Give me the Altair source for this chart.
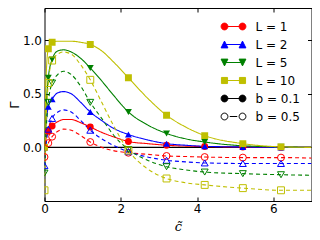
import altair as alt
import pandas as pd

# ---- data ----
c_values = [0, 0.05, 0.1, 0.2, 0.35, 0.5, 0.7, 0.95, 1.2, 1.5, 1.8, 2.2, 2.7, 3.2, 3.7, 4.2, 5.2, 6.2, 7.0]
marker_c = [0, 0.1, 0.2, 1.2, 2.2, 3.2, 4.2, 5.2, 6.2]

L_labels = ["L = 1", "L = 2", "L = 5", "L = 10"]
b_labels = ["b = 0.1", "b = 0.5"]

gamma_L1_b01 = [0.0, 0.10, 0.15, 0.20, 0.24, 0.26, 0.26, 0.23, 0.19, 0.14, 0.10, 0.055, 0.035, 0.02, 0.012, 0.008, 0.003, 0.0, 0.0]
gamma_L2_b01 = [0.0, 0.25, 0.38, 0.45, 0.51, 0.52, 0.50, 0.42, 0.33, 0.25, 0.18, 0.12, 0.07, 0.035, 0.02, 0.01, 0.004, 0.0, 0.0]
gamma_L5_b01 = [0.0, 0.42, 0.65, 0.82, 0.90, 0.91, 0.89, 0.83, 0.74, 0.62, 0.49, 0.33, 0.21, 0.13, 0.08, 0.05, 0.015, 0.005, 0.0]
gamma_L10_b01 = [0.0, 0.72, 0.92, 0.98, 0.99, 0.99, 0.99, 0.98, 0.96, 0.90, 0.80, 0.65, 0.46, 0.30, 0.19, 0.11, 0.035, 0.005, 0.0]

gamma_L1_b05 = [-0.09, 0.0, 0.04, 0.10, 0.15, 0.17, 0.16, 0.11, 0.05, 0.0, -0.03, -0.05, -0.065, -0.08, -0.085, -0.09, -0.095, -0.095, -0.1]
gamma_L2_b05 = [-0.17, 0.05, 0.17, 0.27, 0.33, 0.35, 0.33, 0.25, 0.16, 0.08, 0.02, -0.04, -0.09, -0.12, -0.135, -0.145, -0.15, -0.15, -0.15]
gamma_L5_b05 = [-0.24, 0.20, 0.42, 0.60, 0.68, 0.71, 0.68, 0.57, 0.42, 0.27, 0.12, -0.02, -0.12, -0.18, -0.21, -0.23, -0.245, -0.255, -0.26]
gamma_L10_b05 = [-0.40, 0.30, 0.60, 0.81, 0.87, 0.89, 0.87, 0.77, 0.63, 0.42, 0.21, -0.03, -0.20, -0.29, -0.33, -0.35, -0.38, -0.40, -0.40]

x_ticks = [0, 2, 4, 6]
y_ticks = [0.0, 0.5, 1.0]
zero_level = [0.0]

series_colors = ["#ff0000", "#0000ff", "#008000", "#bfbf00"]
series_shapes = ["circle", "triangle-up", "triangle-down", "square"]

legend_labels = L_labels + b_labels
legend_stroke = series_colors + ["#000000", "#000000"]
legend_fill = series_colors + ["#000000", "#ffffff"]

# ---- build tables ----
series = {
    ("L = 1", "b = 0.1"): gamma_L1_b01, ("L = 2", "b = 0.1"): gamma_L2_b01,
    ("L = 5", "b = 0.1"): gamma_L5_b01, ("L = 10", "b = 0.1"): gamma_L10_b01,
    ("L = 1", "b = 0.5"): gamma_L1_b05, ("L = 2", "b = 0.5"): gamma_L2_b05,
    ("L = 5", "b = 0.5"): gamma_L5_b05, ("L = 10", "b = 0.5"): gamma_L10_b05,
}
rows = []
for (L, b), ys in series.items():
    for c, g in zip(c_values, ys):
        rows.append({"c": c, "gamma": g, "L": L, "b": b, "marker": c in marker_c})
df = pd.DataFrame(rows)

# legend symbols: line with two markers (custom paths)
X, R = 1.8, 0.68
def circ(cx, r=R):
    return f"M{cx - r},0A{r},{r} 0 1,0 {cx + r},0A{r},{r} 0 1,0 {cx - r},0Z"
def tri_up(cx, r=R):
    return f"M{cx},{-r}L{cx + r},{r}L{cx - r},{r}Z"
def tri_down(cx, r=R):
    return f"M{cx},{r}L{cx + r},{-r}L{cx - r},{-r}Z"
def sq(cx, r=R * 0.9):
    return f"M{cx - r},{-r}L{cx + r},{-r}L{cx + r},{r}L{cx - r},{r}Z"
line = f"M{-X},0L{X},0"
dash = "M-0.75,0L0.75,0"
legend_paths = [
    line + circ(-X) + circ(X),
    line + tri_up(-X) + tri_up(X),
    line + tri_down(-X) + tri_down(X),
    line + sq(-X) + sq(X),
    line + circ(-X) + circ(X),
    dash + circ(-X) + circ(X),
]

# ---- scales / axes ----
xs = alt.Scale(domain=[0, 7], nice=False, zero=False)
ys = alt.Scale(domain=[-0.5, 1.3], nice=False, zero=False)
cs = alt.Scale(domain=L_labels, range=series_colors)
ss = alt.Scale(domain=L_labels, range=series_shapes)

common_axis = dict(grid=False, domain=False, tickSize=4, offset=-4, tickColor="black",
                   tickWidth=1, labelFont="DejaVu Sans", labelFontSize=12,
                   labelColor="black", labelFlush=False, labelOverlap=False)
ax_bottom = alt.Axis(orient="bottom", values=x_ticks, labelPadding=2, title="c\u0303",
                     titleFont="DejaVu Serif", titleFontStyle="italic", titleFontWeight="normal",
                     titleFontSize=13, titleColor="black", titlePadding=6, **common_axis)
ax_top = alt.Axis(orient="top", values=x_ticks, labels=False, title=None, **common_axis)
ax_left = alt.Axis(orient="left", values=y_ticks, format=".1f", labelPadding=3, title="\u0393",
                   titleFont="DejaVu Sans", titleFontWeight="normal", titleFontSize=13,
                   titleColor="black", titlePadding=1, **common_axis)
ax_right = alt.Axis(orient="right", values=y_ticks, labels=False, title=None, **common_axis)

zero = alt.Chart(pd.DataFrame({"zero": zero_level})).mark_rule(
    color="black", strokeWidth=1.4).encode(y=alt.Y("zero:Q", scale=ys, axis=None))

lines = alt.Chart(df).mark_line(strokeWidth=1.1, interpolate="monotone", clip=True).encode(
    x=alt.X("c:Q", scale=xs, axis=ax_bottom),
    y=alt.Y("gamma:Q", scale=ys, axis=ax_left),
    color=alt.Color("L:N", scale=cs, legend=None),
    strokeDash=alt.StrokeDash("b:N", scale=alt.Scale(domain=b_labels, range=[[1, 0], [4, 3]]), legend=None),
)

filled_pts = alt.Chart(df).transform_filter(
    "datum.marker && datum.b == 'b = 0.1'"
).mark_point(filled=True, size=48, opacity=1, clip=True).encode(
    x=alt.X("c:Q", scale=xs, axis=ax_top),
    y=alt.Y("gamma:Q", scale=ys, axis=ax_right),
    color=alt.Color("L:N", scale=cs, legend=None),
    shape=alt.Shape("L:N", scale=ss, legend=None),
)

open_pts = alt.Chart(df).transform_filter(
    "datum.marker && datum.b == 'b = 0.5'"
).mark_point(filled=False, size=48, opacity=1, strokeWidth=1, clip=True).encode(
    x=alt.X("c:Q", scale=xs, axis=None),
    y=alt.Y("gamma:Q", scale=ys, axis=None),
    color=alt.Color("L:N", scale=cs, legend=None),
    shape=alt.Shape("L:N", scale=ss, legend=None),
)

leg = dict(orient="none", legendX=183, legendY=12.5, title=None, labelFont="DejaVu Sans",
           labelFontSize=12, labelColor="black", symbolSize=100, symbolStrokeWidth=1,
           symbolOpacity=1, labelOffset=16, rowPadding=6, padding=0)
legend_layer = alt.Chart(pd.DataFrame({"key": legend_labels})).transform_filter("false").mark_point(
    opacity=1).encode(
    shape=alt.Shape("key:N", scale=alt.Scale(domain=legend_labels, range=legend_paths), legend=alt.Legend(**leg)),
    stroke=alt.Stroke("key:N", scale=alt.Scale(domain=legend_labels, range=legend_stroke), legend=alt.Legend(**leg)),
    fill=alt.Fill("key:N", scale=alt.Scale(domain=legend_labels, range=legend_fill), legend=alt.Legend(**leg)),
)

chart = alt.layer(zero, lines, filled_pts, open_pts, legend_layer).resolve_scale(
    shape="independent", fill="independent", stroke="independent"
).resolve_axis(x="independent", y="independent").properties(
    width=267, height=193, autosize="none",
    padding={"left": 36.5, "top": 0, "right": 0.5, "bottom": 31},
    background="white",
).configure_view(stroke="black", strokeWidth=1)

chart.save("out.html", embed_options={"renderer": "svg", "actions": False})
